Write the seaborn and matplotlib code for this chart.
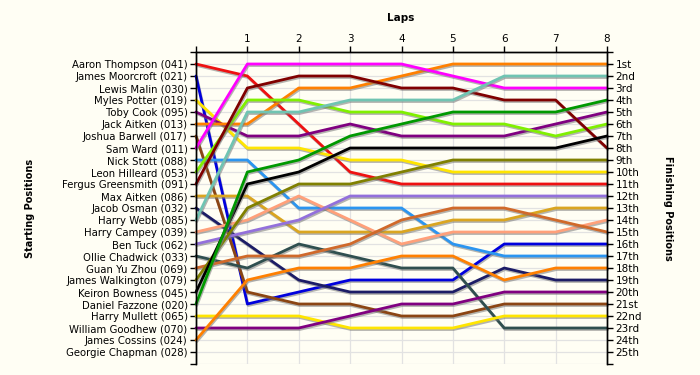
import matplotlib
matplotlib.use("Agg")
import matplotlib.pyplot as plt
import matplotlib.patheffects as pe
import pandas as pd
import seaborn as sns

# starting grid, top to bottom
grid = [
    "Aaron Thompson (041)", "James Moorcroft (021)", "Lewis Malin (030)",
    "Myles Potter (019)", "Toby Cook (095)", "Jack Aitken (013)",
    "Joshua Barwell (017)", "Sam Ward (011)", "Nick Stott (088)",
    "Leon Hilleard (053)", "Fergus Greensmith (091)", "Max Aitken (086)",
    "Jacob Osman (032)", "Harry Webb (085)", "Harry Campey (039)",
    "Ben Tuck (062)", "Ollie Chadwick (033)", "Guan Yu Zhou (069)",
    "James Walkington (079)", "Keiron Bowness (045)", "Daniel Fazzone (020)",
    "Harry Mullett (065)", "William Goodhew (070)", "James Cossins (024)",
    "Georgie Chapman (028)",
]

finish_labels = [
    "1st", "2nd", "3rd", "4th", "5th", "6th", "7th", "8th", "9th", "10th",
    "11th", "12th", "13th", "14th", "15th", "16th", "17th", "18th", "19th",
    "20th", "21st", "22nd", "23rd", "24th", "25th",
]

# running order (car numbers) at the end of each lap
lap1 = ["011", "041", "091", "053", "085", "013", "095", "019", "088", "020", "045", "086",
        "079", "039", "062", "032", "069", "033", "024", "017", "021", "065", "070"]
lap2 = ["011", "091", "013", "053", "085", "041", "095", "019", "020", "045", "079", "039",
        "088", "062", "086", "033", "069", "024", "032", "021", "017", "065", "070"]
lap3 = ["011", "091", "013", "085", "053", "095", "020", "045", "019", "041", "079", "062",
        "088", "039", "086", "069", "033", "024", "021", "032", "017", "070", "065"]
lap4 = ["011", "013", "091", "085", "053", "020", "095", "045", "019", "079", "041", "062",
        "088", "069", "086", "039", "024", "033", "021", "032", "070", "017", "065"]
lap5 = ["013", "011", "091", "085", "020", "053", "095", "045", "079", "019", "041", "062",
        "069", "086", "039", "088", "024", "033", "021", "032", "070", "017", "065"]
lap6 = ["013", "085", "011", "091", "020", "053", "095", "045", "079", "019", "041", "062",
        "069", "086", "039", "021", "088", "032", "024", "070", "017", "065", "033"]
lap7 = ["013", "085", "011", "091", "020", "095", "053", "045", "079", "019", "041", "062",
        "086", "069", "039", "021", "088", "024", "032", "070", "017", "065", "033"]
lap8 = ["013", "085", "011", "020", "095", "053", "045", "091", "079", "019", "041", "062",
        "086", "039", "069", "021", "088", "024", "032", "070", "017", "065", "033"]

car_colours = {
    "041": "#ee1111", "021": "#0000dd", "019": "#ffe500", "095": "#800080",
    "013": "#ff8000", "017": "#8b4513", "011": "#ff00ff", "088": "#2b95f0",
    "053": "#80f000", "091": "#800000", "086": "#daa520", "032": "#1c1c66",
    "085": "#70c4b2", "039": "#ffa07a", "062": "#9370db", "033": "#2f4f4f",
    "069": "#d0692a", "079": "#808000", "045": "#000000", "020": "#009900",
    "065": "#ffe500", "070": "#800080", "024": "#ff8000",
}

laps = [lap1, lap2, lap3, lap4, lap5, lap6, lap7, lap8]

rows = []
for i, name in enumerate(grid):
    car = name[-4:-1]
    if car in lap1:
        rows.append((0, i + 1, car))
for lap, order in enumerate(laps, start=1):
    for pos, car in enumerate(order, start=1):
        rows.append((lap, pos, car))
df = pd.DataFrame(rows, columns=["lap", "position", "car"])

bg = "#fffef4"
sns.set_style("white")
plt.rcParams["font.family"] = ["DejaVu Sans"]
plt.rcParams["text.color"] = "black"
plt.rcParams["xtick.color"] = "black"
plt.rcParams["ytick.color"] = "black"

fig = plt.figure(figsize=(7, 3.75), dpi=100, facecolor=bg)
ax = fig.add_axes([196 / 700, 1 - 364 / 375, 411 / 700, 312 / 375])
ax.set_facecolor(bg)

sns.lineplot(data=df, x="lap", y="position", hue="car", palette=car_colours,
             estimator=None, lw=2.0, legend=False, ax=ax, clip_on=False,
             path_effects=[pe.SimpleLineShadow(offset=(0.6, -1.1), shadow_color="#777777", alpha=0.55),
                           pe.Normal()])

ax.set_xlim(0, 8)
ax.set_ylim(26, 0)
ax.xaxis.tick_top()
ax.set_xticks(range(9))
ax.set_xticklabels([""] + [str(i) for i in range(1, 9)], fontsize=7.5)
ax.set_yticks(range(27))
ax.set_yticklabels([""] + grid + [""], fontsize=7.3)
ax.set_xlabel("")
ax.set_ylabel("")
ax.grid(True, color="#e2e2e2", lw=0.9)
ax.set_axisbelow(True)
ax.tick_params(axis="both", length=4, width=1, color="black", labelcolor="black", pad=2)

ax2 = ax.twinx()
ax2.set_ylim(26, 0)
ax2.set_yticks(range(27))
ax2.set_yticklabels([""] + finish_labels + [""], fontsize=7.5)
ax2.tick_params(axis="y", length=4, width=1, color="black", labelcolor="black", pad=2)

for a in (ax, ax2):
    for side in ("top", "left", "right"):
        a.spines[side].set_visible(True)
        a.spines[side].set_color("black")
        a.spines[side].set_linewidth(1)
    a.spines["bottom"].set_visible(False)

fig.text(401 / 700, 1 - 18 / 375, "Laps", ha="center", va="center", fontsize=7.5, fontweight="bold")
fig.text(30 / 700, 1 - 208 / 375, "Starting Positions", ha="center", va="center",
         rotation=90, fontsize=7, fontweight="bold")
fig.text(668 / 700, 1 - 208 / 375, "Finishing Positions", ha="center", va="center",
         rotation=270, fontsize=7, fontweight="bold")

fig.savefig("out.png", dpi=100, facecolor=bg)
